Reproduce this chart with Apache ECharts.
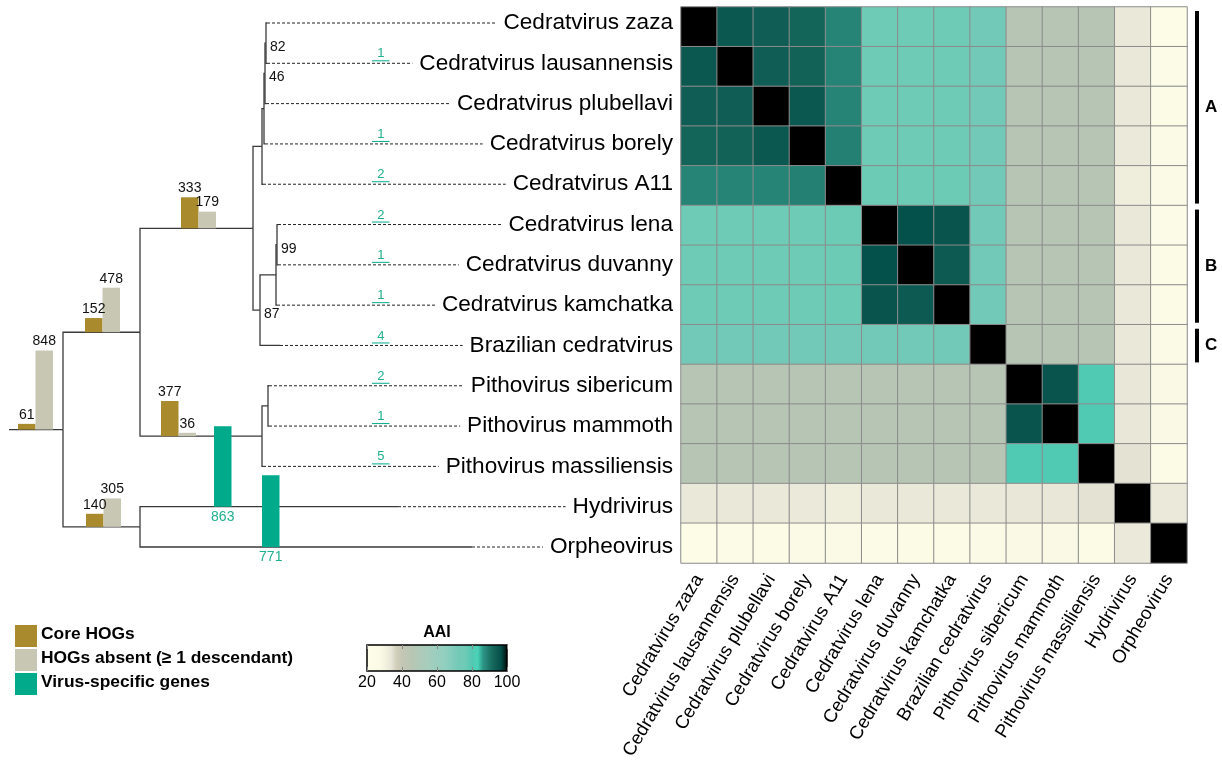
<!DOCTYPE html>
<html><head><meta charset="utf-8">
<script src="https://cdn.jsdelivr.net/npm/echarts@6/dist/echarts.min.js"></script>
<style>html,body{margin:0;padding:0;background:#fff}#c{width:1222px;height:763px}</style>
</head><body><div id="c"></div>
<script>
// ================= DATA =================
const taxa = ['Cedratvirus zaza','Cedratvirus lausannensis','Cedratvirus plubellavi','Cedratvirus borely','Cedratvirus A11','Cedratvirus lena','Cedratvirus duvanny','Cedratvirus kamchatka','Brazilian cedratvirus','Pithovirus sibericum','Pithovirus mammoth','Pithovirus massiliensis','Hydrivirus','Orpheovirus'];

// tree topology (internal nodes): name, parent, depth (branch-length units)
const nodeNames   = ['root','nA','cedrat','subA','X','zlp','zl','BC','B','LD','pitho','SM','outer'];
const nodeParent  = ['',    'root','nA','cedrat','subA','X','zlp','cedrat','BC','B','nA','pitho','root'];
const nodeDepth   = [54,131,244,253,255,256,257,251,267,268,253,259,131];
const nodeSupport = [null,null,null,null,null,46,82,87,null,99,null,null,null];
// tips: parent and depth
const tipParent = ['zl','zl','zlp','X','subA','LD','LD','B','BC','SM','SM','pitho','outer','outer'];
const tipDepth  = [258,258,257,256,254,269,269,268,271,260,260,254,389,463];

// gene counts on internal branches
const hogNodes   = ['root','nA','cedrat','pitho','outer'];
const coreHOGs   = [61,152,333,377,140];
const absentHOGs = [848,478,179,36,305];
// virus-specific genes per tip
const specificGenes = [null,1,null,1,2,2,1,1,4,2,1,5,863,771];

// AAI matrix (rows/cols in taxa order)
const aai = [
 [100,94.5,93.5,92,88,76,76,76,72.5,46,46,46,33.5,25],
 [94.5,100,93.5,92.5,88,76,76,76,72.5,46,46,46,33.5,26.5],
 [93.5,93.5,100,94.5,88,76,76,76,72.5,46,46,46,33.5,27],
 [92,92.5,94.5,100,88.5,76,76,76,72.5,46,46,46,33,28],
 [88,88,88,88.5,100,76.5,76.5,76.5,72.5,46,46,46,32,27.5],
 [76,76,76,76,76.5,100,96,95,72.5,46,46,46,33.5,26.5],
 [76,76,76,76,76.5,96,100,94,72.5,46,46,46,33.5,27],
 [76,76,76,76,76.5,95,94,100,72.5,46,46,46,33.5,27],
 [72.5,72.5,72.5,72.5,72.5,72.5,72.5,72.5,100,46,46,46,33.5,27.5],
 [46,46,46,46,46,46,46,46,46,100,95,80.5,34,28.5],
 [46,46,46,46,46,46,46,46,46,95,100,80.5,34,28.5],
 [46,46,46,46,46,46,46,46,46,80.5,80.5,100,34.5,27],
 [33.5,33.5,33.5,33,32,33.5,33.5,33.5,33.5,34,34,34.5,100,33],
 [25,26.5,27,28,27.5,26.5,27,27,27.5,28.5,28.5,27,33,100]
];
const aaiTicks = [20,40,60,80,100];

// clades marked at the right
const cladeNames = ['A','B','C'];
const cladeFirst = [0,5,8];
const cladeLast  = [4,7,8];

// ================= STYLE / LAYOUT =================
const FONT = 'Liberation Sans';
const COL_CORE = '#a98a2c', COL_ABS = '#c8c7b3', COL_SPEC = '#00aa8b', COL_SPEC_TXT = '#1fb08f';
const aaiStops = [[20,'#fefee9'],[28,'#fafae6'],[31,'#f2f1df'],[34,'#e8e7d8'],[37,'#d2cfba'],[40,'#c5c7b4'],[46,'#b7c6b4'],[55,'#a6cdbd'],[65,'#8fcfbf'],[72,'#74c9b8'],[76,'#6ecbb5'],[80,'#52c8b2'],[83,'#4ad3b8'],[86,'#2c9686'],[88,'#268477'],[90,'#1a7366'],[92,'#136459'],[94,'#0d5a52'],[96,'#04504a'],[98,'#022d29'],[100,'#000000']];
function hex2rgb(h){return [1,3,5].map(i=>parseInt(h.substr(i,2),16));}
function interp(v){
  for(let i=0;i<aaiStops.length-1;i++){
    const [v0,c0]=aaiStops[i],[v1,c1]=aaiStops[i+1];
    if(v<=v1){const t=(v-v0)/(v1-v0);const a=hex2rgb(c0),b=hex2rgb(c1);
      return 'rgb('+a.map((x,k)=>Math.round(x+(b[k]-x)*t)).join(',')+')';}
  }
  return aaiStops[aaiStops.length-1][1];
}
const scaleColors=[]; for(let v=20;v<=100.001;v+=0.5) scaleColors.push(interp(v));

const hogBarDepth = [9,76,172,152,77];           // where pair bars sit along their branch
const specBarDepth = taxa.map((t,i)=> i===12?205:(i===13?253:363));
const BAR_W = 17.5, BAR_H = 93.2, CNT_MAX = 1000;

// ================= TREE LAYOUT =================
const N = {};
nodeNames.forEach((n,i)=>N[n]={name:n,x:nodeDepth[i],parent:nodeParent[i],children:[],support:nodeSupport[i]});
taxa.forEach((t,i)=>N[t]={name:t,x:tipDepth[i],parent:tipParent[i],children:[],y:i,tip:true,idx:i});
Object.values(N).forEach(n=>{if(n.parent)N[n.parent].children.push(n);});
function layY(n){if(n.tip)return n.y;n.y=n.children.map(layY).reduce((a,b)=>a+b,0)/n.children.length;return n.y;}
layY(N.root);

const branchData=[[0,N.root.y,N.root.x,N.root.y]];
Object.values(N).forEach(n=>{if(n.parent){const p=N[n.parent];branchData.push([p.x,p.y,n.x,n.y]);}});
const tipData = taxa.map((t,i)=>[N[t].x,N[t].y,i]);
const supportData = nodeNames.filter((n,i)=>nodeSupport[i]!=null).map(n=>[N[n].x,N[n].y,N[n].support]);

const chart = echarts.init(document.getElementById('c'));
const treeGrid = {left:9,top:23,width:664,height:524,outerBoundsMode:'none'};
chart.setOption({animation:false,grid:[treeGrid],
  xAxis:[{gridIndex:0,type:'value',min:0,max:664,show:false}],
  yAxis:[{gridIndex:0,type:'value',min:0,max:13,inverse:true,show:false}],series:[]});
const toPx = (x,y)=>chart.convertToPixel({gridIndex:0},[x,y]);

const grids=[treeGrid], xAxes=[{gridIndex:0,type:'value',min:0,max:664,show:false}],
      yAxes=[{gridIndex:0,type:'value',min:0,max:13,inverse:true,show:false}], series=[];

// tree branches
series.push({type:'custom',xAxisIndex:0,yAxisIndex:0,z:1,data:branchData,silent:true,
  renderItem:(p,api)=>{const a=api.coord([api.value(0),api.value(1)]),b=api.coord([api.value(0),api.value(3)]),c=api.coord([api.value(2),api.value(3)]);
    return {type:'polyline',shape:{points:[a,b,c]},style:{stroke:'#3a3a3a',lineWidth:1.3,fill:null}};}});
// tips: dashed extenders + labels
series.push({type:'custom',xAxisIndex:0,yAxisIndex:0,z:2,data:tipData,silent:true,
  renderItem:(p,api)=>{const s=api.coord([api.value(0),api.value(1)]),e=api.coord([664,api.value(1)]);
    return {type:'group',children:[
      {type:'line',shape:{x1:s[0],y1:s[1],x2:e[0]-2,y2:e[1]},style:{stroke:'#222',lineWidth:1,lineDash:[3,2]}},
      {type:'text',x:e[0],y:e[1],style:{text:taxa[api.value(2)],align:'right',verticalAlign:'middle',fontSize:22.6,fontFamily:FONT,fill:'#000',backgroundColor:'#fff',padding:[0,0,0,7]}}]};}});
// support values
series.push({type:'custom',xAxisIndex:0,yAxisIndex:0,z:2,data:supportData,silent:true,
  renderItem:(p,api)=>{const c=api.coord([api.value(0),api.value(1)]);
    return {type:'text',x:c[0]+4,y:c[1]+4,style:{text:String(api.value(2)),align:'left',verticalAlign:'middle',fontSize:14,fontFamily:FONT,fill:'#111'}};}});

// bar grids helper
function addBars(px,py,items,labelCfg){
  const gi=grids.length;
  grids.push({left:px,top:py-BAR_H,width:BAR_W*items.length,height:BAR_H,outerBoundsMode:'none'});
  xAxes.push({gridIndex:gi,type:'category',data:items.map((d,i)=>String(i)),show:false});
  yAxes.push({gridIndex:gi,type:'value',min:0,max:CNT_MAX,show:false});
  series.push({type:'bar',xAxisIndex:gi,yAxisIndex:gi,z:5,barWidth:'100%',barMinHeight:1,silent:true,
    data:items.map(d=>({value:d.v,itemStyle:{color:d.c}})),
    label:Object.assign({show:true,fontFamily:FONT},labelCfg)});
}
hogNodes.forEach((n,i)=>{
  const p=toPx(hogBarDepth[i],N[n].y);
  addBars(p[0],p[1],[{v:coreHOGs[i],c:COL_CORE},{v:absentHOGs[i],c:COL_ABS}],{position:'top',distance:2,fontSize:14,color:'#111'});
});
taxa.forEach((t,i)=>{
  if(specificGenes[i]==null)return;
  const p=toPx(specBarDepth[i],N[t].y);
  const big=specificGenes[i]>100;
  addBars(p[0],big?p[1]:p[1]-2,[{v:specificGenes[i],c:COL_SPEC}],
    big?{position:'bottom',distance:3,fontSize:14,color:COL_SPEC_TXT}:{position:'top',distance:0,fontSize:13,color:COL_SPEC_TXT});
});

// heatmap
const hg=grids.length;
grids.push({left:681,top:7,width:506,height:556,outerBoundsMode:'none'});
xAxes.push({gridIndex:hg,type:'category',data:taxa,axisLine:{show:false},axisTick:{show:false},splitLine:{show:false},
  axisLabel:{interval:0,rotate:59,fontSize:18.6,fontFamily:FONT,color:'#000',margin:13}});
yAxes.push({gridIndex:hg,type:'category',data:taxa,inverse:true,show:false});
const hmData=[]; aai.forEach((row,r)=>row.forEach((v,c)=>hmData.push([c,r,v])));
const hmIndex=series.length;
series.push({type:'heatmap',xAxisIndex:hg,yAxisIndex:hg,data:hmData,silent:true,
  itemStyle:{borderColor:'#8c8c8c',borderWidth:1}});
// clade brackets
series.push({type:'custom',xAxisIndex:hg,yAxisIndex:hg,silent:true,data:cladeNames.map((n,i)=>[cladeFirst[i],cladeLast[i],i]),
  renderItem:(p,api)=>{const c1=api.coord([13,api.value(0)]),c2=api.coord([13,api.value(1)]),sz=api.size([1,1]);
    const x=c1[0]+sz[0]/2+10,y1=c1[1]-sz[1]/2+4,y2=c2[1]+sz[1]/2-2;
    return {type:'group',children:[
      {type:'line',shape:{x1:x,y1:y1,x2:x,y2:y2},style:{stroke:'#000',lineWidth:4}},
      {type:'text',x:x+8,y:(y1+y2)/2,style:{text:cladeNames[api.value(2)],align:'left',verticalAlign:'middle',fontSize:17,fontWeight:'bold',fontFamily:FONT,fill:'#000'}}]};}});

// colour bar
const cg=grids.length;
grids.push({left:367,top:645,width:140,height:26,outerBoundsMode:'none'});
xAxes.push({gridIndex:cg,type:'value',min:aaiTicks[0],max:aaiTicks[aaiTicks.length-1],interval:20,position:'bottom',z:10,
  axisLine:{show:false},splitLine:{show:false},axisTick:{show:true,inside:true,length:4,lineStyle:{color:'#888'}},
  axisLabel:{fontSize:16,fontFamily:FONT,color:'#000',margin:4}});
xAxes.push({gridIndex:cg,type:'value',min:aaiTicks[0],max:aaiTicks[aaiTicks.length-1],interval:20,position:'top',z:10,
  axisLine:{show:false},splitLine:{show:false},axisTick:{show:true,inside:true,length:4,lineStyle:{color:'#888'}},axisLabel:{show:false},
  name:'AAI',nameLocation:'middle',nameGap:4,nameTextStyle:{fontSize:16,fontWeight:'bold',fontFamily:FONT,color:'#000',verticalAlign:'bottom'}});
yAxes.push({gridIndex:cg,type:'value',min:0,max:1,show:false});
const grad=new echarts.graphic.LinearGradient(0,0,1,0,aaiStops.map(s=>({offset:(s[0]-20)/80,color:s[1]})));
series.push({type:'custom',xAxisIndex:xAxes.length-2,yAxisIndex:cg,silent:true,z:2,data:[[aaiTicks[0],aaiTicks[aaiTicks.length-1]]],
  renderItem:(p,api)=>{const a=api.coord([api.value(0),0]),b=api.coord([api.value(1),1]);
    return {type:'rect',shape:{x:a[0],y:b[1],width:b[0]-a[0],height:a[1]-b[1]},style:{fill:grad,stroke:'#000',lineWidth:1.5}};}});

// legend (graphic)
const legendItems=[['Core HOGs',COL_CORE],['HOGs absent (≥ 1 descendant)',COL_ABS],['Virus-specific genes',COL_SPEC]];
const graphic=[];
legendItems.forEach((it,i)=>{
  graphic.push({type:'rect',left:15,top:625+i*24,shape:{width:22,height:22},style:{fill:it[1]}});
  graphic.push({type:'text',left:41,top:626+i*24,style:{text:it[0],fontSize:17.4,fontWeight:'bold',fontFamily:FONT,fill:'#000'}});
});

chart.setOption({animation:false,textStyle:{fontFamily:FONT},grid:grids,xAxis:xAxes,yAxis:yAxes,series:series,graphic:graphic,
  visualMap:[{type:'continuous',show:false,min:20,max:100,dimension:2,seriesIndex:hmIndex,inRange:{color:scaleColors}}]},true);
</script></body></html>
